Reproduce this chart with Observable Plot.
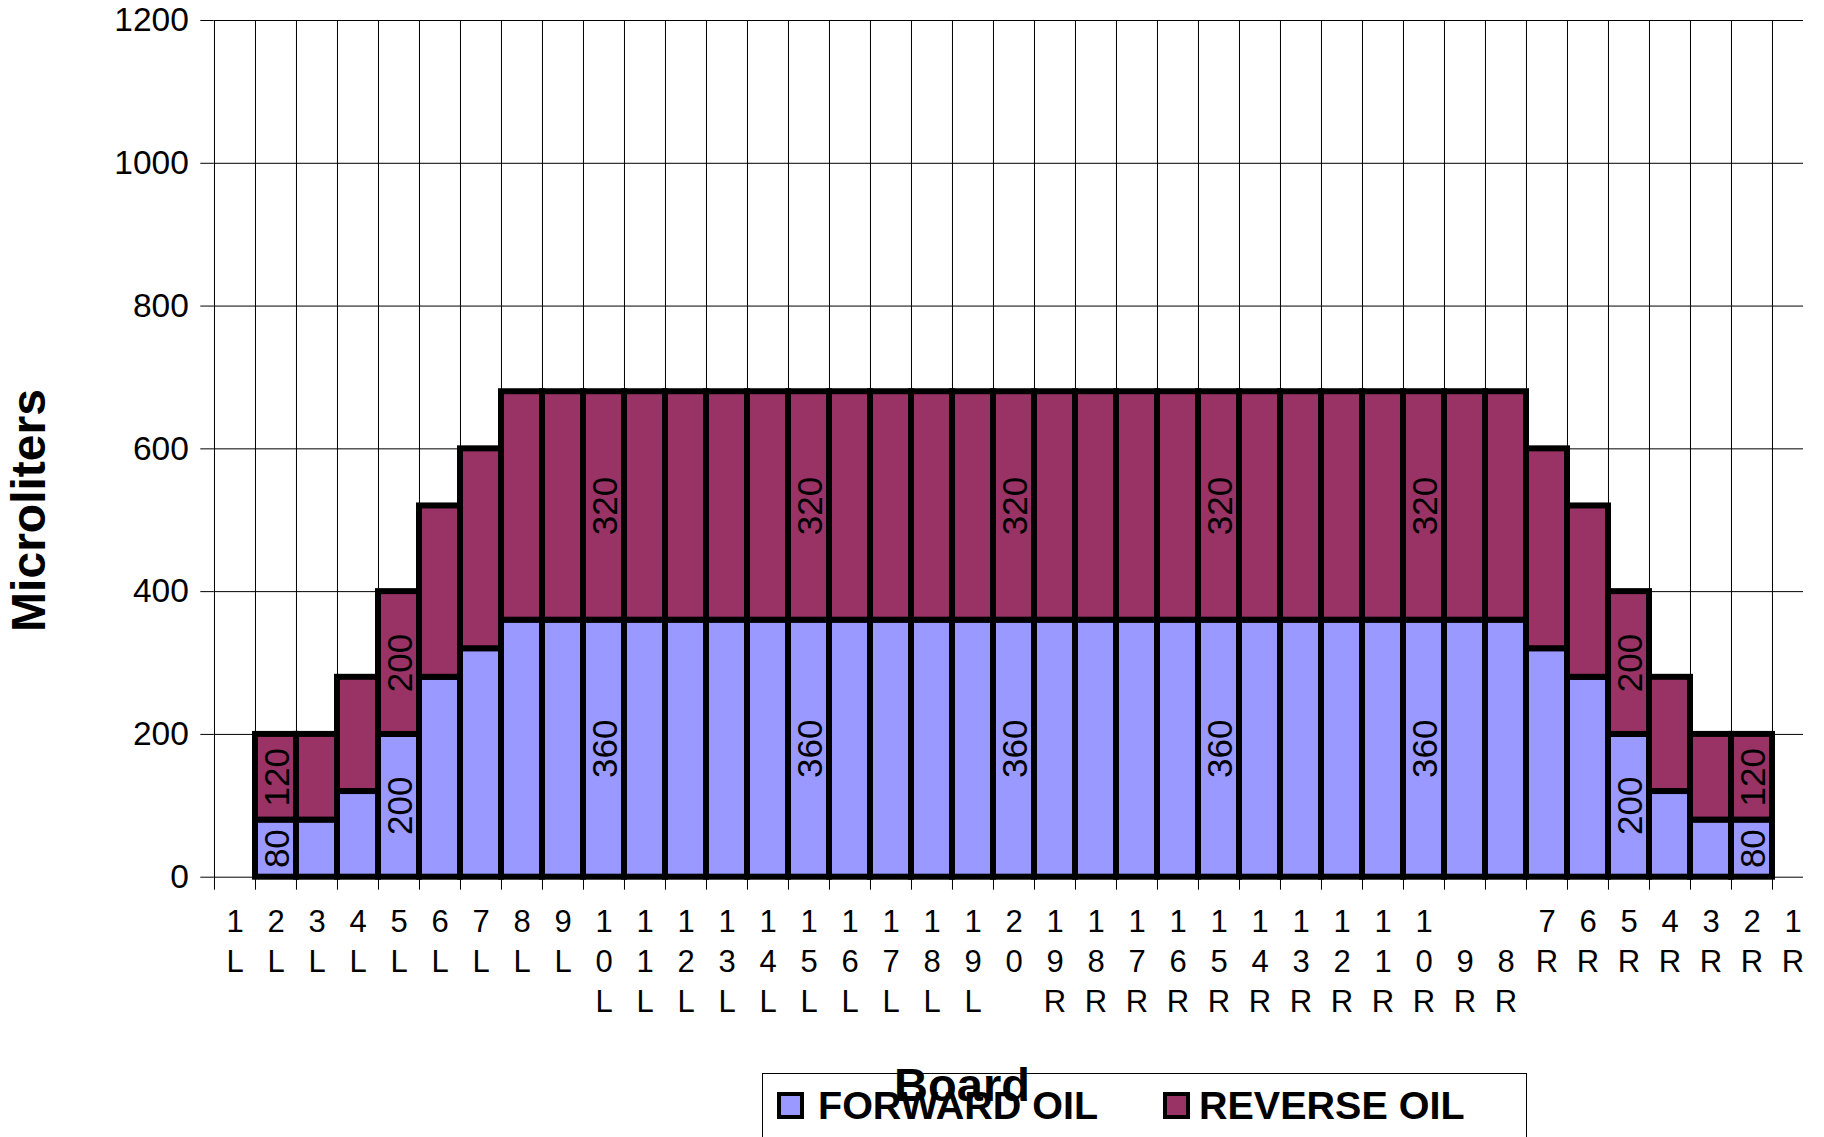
<!DOCTYPE html>
<html>
<head>
<meta charset="utf-8">
<script src="https://cdn.jsdelivr.net/npm/d3@7"></script>
<script src="https://cdn.jsdelivr.net/npm/@observablehq/plot@0.6"></script>
<style>
html, body { margin: 0; padding: 0; background: #fff; overflow: hidden; }
#wrap { position: relative; width: 1803px; height: 1137px; overflow: hidden; font-family: "Liberation Sans", Arial, sans-serif; }
#wrap svg { position: absolute; left: 0; top: 0; max-width: none !important; width: 1824px !important; height: 1137px !important; }
#legend { position: absolute; left: 762px; top: 1073px; width: 765px; height: 120px; border: 1px solid #000; box-sizing: border-box; }
.sw { position: absolute; top: 18px; width: 27px; height: 27px; border: 4px solid #000; box-sizing: border-box; }
.lt { position: absolute; top: 12px; font-size: 39.5px; line-height: 39px; font-weight: bold; white-space: nowrap; color: #000; }
</style>
</head>
<body>
<div id="wrap"></div>
<script>
// ---- data ----
const boards = ["1L","2L","3L","4L","5L","6L","7L","8L","9L","10L","11L","12L","13L","14L","15L","16L","17L","18L","19L",
  "20",
  "19R","18R","17R","16R","15R","14R","13R","12R","11R","10R","9R","8R","7R","6R","5R","4R","3R","2R","1R"];
const tickLabels = ["1\nL","2\nL","3\nL","4\nL","5\nL","6\nL","7\nL","8\nL","9\nL","1\n0\nL","1\n1\nL","1\n2\nL","1\n3\nL","1\n4\nL","1\n5\nL","1\n6\nL","1\n7\nL","1\n8\nL","1\n9\nL",
  "2\n0",
  "1\n9\nR","1\n8\nR","1\n7\nR","1\n6\nR","1\n5\nR","1\n4\nR","1\n3\nR","1\n2\nR","1\n1\nR","1\n0\nR","\n9\nR","\n8\nR","7\nR","6\nR","5\nR","4\nR","3\nR","2\nR","1\nR"];
const forward = [0,80,80,120,200,280,320,360,360,360,360,360,360,360,360,360,360,360,360,
  360,
  360,360,360,360,360,360,360,360,360,360,360,360,320,280,200,120,80,80,0];
const reverse = [0,120,120,160,200,240,280,320,320,320,320,320,320,320,320,320,320,320,320,
  320,
  320,320,320,320,320,320,320,320,320,320,320,320,280,240,200,160,120,120,0];
const labeledBoards = ["2L","5L","10L","15L","20","15R","10R","5R","2R"];
const seriesNames = ["FORWARD OIL","REVERSE OIL"];
const seriesColors = ["#9999FF","#993366"];
const yTicks = [0,200,400,600,800,1000,1200];
const yTitle = "Microliters";
const xTitle = "Board";

// ---- table ----
const rows = boards.flatMap((b, i) => [
  {board: b, series: seriesNames[0], value: forward[i]},
  {board: b, series: seriesNames[1], value: reverse[i]}
]);

// ---- layout ----
const W = 1824, H = 1137;
const mL = 213.3, mR = 9.7, mT = 20, mB = H - 876.7;
const bw = (W - mL - mR) / boards.length;
const frameCX = (mL + (W - mR)) / 2;
const frameCY = (mT + (H - mB)) / 2;
const font = '"Liberation Sans", Arial, sans-serif';

const chart = Plot.plot({
  width: W, height: H,
  marginLeft: mL, marginRight: mR, marginTop: mT, marginBottom: mB,
  style: {fontFamily: font, background: "transparent", color: "#000", overflow: "visible", maxWidth: "none"},
  x: {type: "band", domain: boards, padding: 0},
  y: {domain: [0, 1200]},
  color: {domain: seriesNames, range: seriesColors},
  marks: [
    Plot.ruleY(yTicks, {y: d => d, stroke: "#000", strokeWidth: 1}),
    Plot.ruleX(boards, {x: d => d, dx: -bw / 2, insetBottom: -13, stroke: "#000", strokeWidth: 1}),
    Plot.axisY({ticks: yTicks, tickFormat: d => String(d), tickSize: 13, tickPadding: 12, fontSize: 33.5, label: null, stroke: "#000", fill: "#000"}),
    Plot.axisX({tickSize: 0, tickPadding: 26, fontSize: 31, lineHeight: 1.29, label: null, fill: "#000",
      tickFormat: d => tickLabels[boards.indexOf(d)]}),
    Plot.barY(rows.filter(d => d.value > 0), {x: "board", y: "value", fill: "series", stroke: "#000", strokeWidth: 6}),
    Plot.text(rows.filter(d => labeledBoards.includes(d.board)),
      Plot.stackY({x: "board", y: "value", text: d => String(d.value), rotate: -90, fontSize: 35, fill: "#000",
        textAnchor: "middle", lineAnchor: "middle", dx: 2})),
    Plot.text([yTitle], {frameAnchor: "left", text: d => d, rotate: -90, textAnchor: "middle", lineAnchor: "middle",
      dx: 29 - mL, dy: 510 - frameCY, fontSize: 48, fontWeight: "bold", fill: "#000"}),
    Plot.text([xTitle], {frameAnchor: "bottom", text: d => d, textAnchor: "middle", lineAnchor: "bottom",
      dx: 961.5 - frameCX, dy: 1100 - (H - mB), fontSize: 47, fontWeight: "bold", fill: "#000"})
  ]
});

const wrap = document.getElementById("wrap");
wrap.appendChild(chart);

// ---- legend ----
const legend = document.createElement("div");
legend.id = "legend";
const swLeft = [14, 400], txtLeft = [55, 436];
seriesNames.forEach((name, i) => {
  const sw = document.createElement("div");
  sw.className = "sw";
  sw.style.left = swLeft[i] + "px";
  sw.style.background = seriesColors[i];
  const t = document.createElement("span");
  t.className = "lt";
  t.style.left = txtLeft[i] + "px";
  t.textContent = name;
  legend.appendChild(sw);
  legend.appendChild(t);
});
wrap.appendChild(legend);
</script>
</body>
</html>
